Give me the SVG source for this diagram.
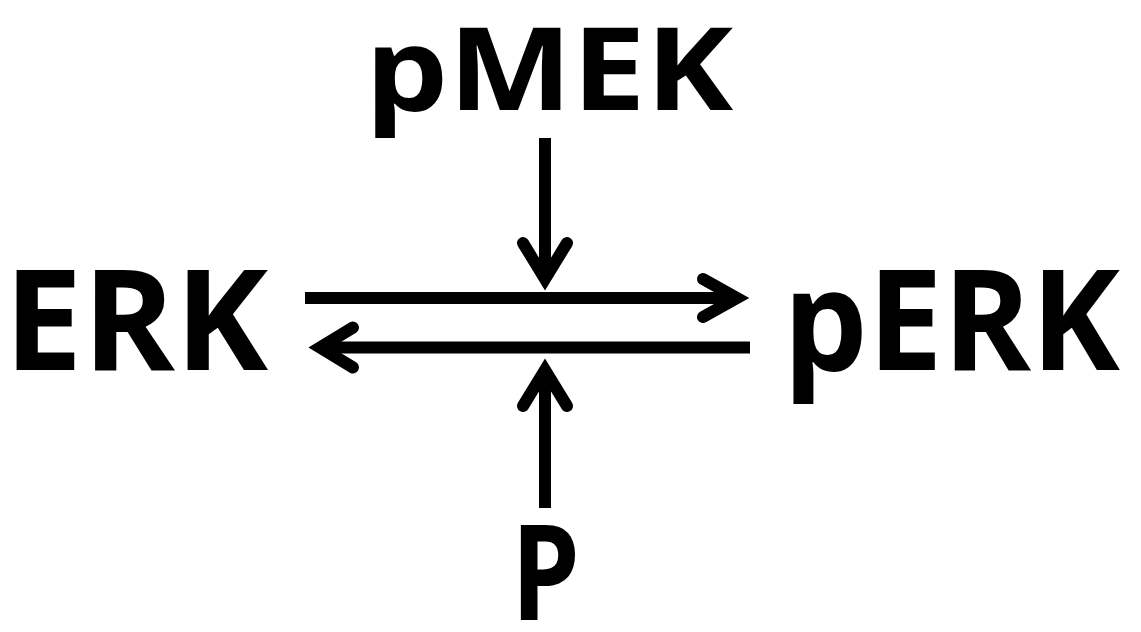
<svg xmlns="http://www.w3.org/2000/svg" width="1141" height="632" viewBox="0 0 1141 632">
<style>
.lbl{font-family:"Open Sans","Liberation Sans",sans-serif;font-weight:bold;fill:#000}
.ln{stroke:#000;stroke-width:12;fill:none;stroke-linecap:butt}
.hd{stroke:#000;stroke-width:12;fill:none;stroke-linecap:round;stroke-linejoin:miter;stroke-miterlimit:10}
</style>
<rect width="1141" height="632" fill="#fff"/>
<g id="node-pMEK"><text class="lbl" x="365" y="110" font-size="114" textLength="368" lengthAdjust="spacingAndGlyphs">pMEK</text></g>
<g id="node-ERK"><text class="lbl" x="4" y="370" font-size="140" textLength="264" lengthAdjust="spacingAndGlyphs">ERK</text></g>
<g id="node-pERK"><text class="lbl" x="783" y="370" font-size="140" textLength="337" lengthAdjust="spacingAndGlyphs">pERK</text></g>
<g id="node-P"><text class="lbl" x="511" y="620" font-size="132" textLength="69" lengthAdjust="spacingAndGlyphs">P</text></g>
<g id="connectors">
<line class="ln" x1="305" y1="298" x2="738" y2="298"/>
<polyline class="hd" points="703,279 737,298 703,317"/>
<line class="ln" x1="320" y1="347.5" x2="750" y2="347.5"/>
<polyline class="hd" points="353,327.5 320,347.5 353,367.5"/>
<line class="ln" x1="545" y1="138" x2="545" y2="279"/>
<polyline class="hd" points="523,243 545,279 567,243"/>
<line class="ln" x1="545" y1="370" x2="545" y2="508"/>
<polyline class="hd" points="523,406 545,370 567,406"/>
</g>
</svg>
